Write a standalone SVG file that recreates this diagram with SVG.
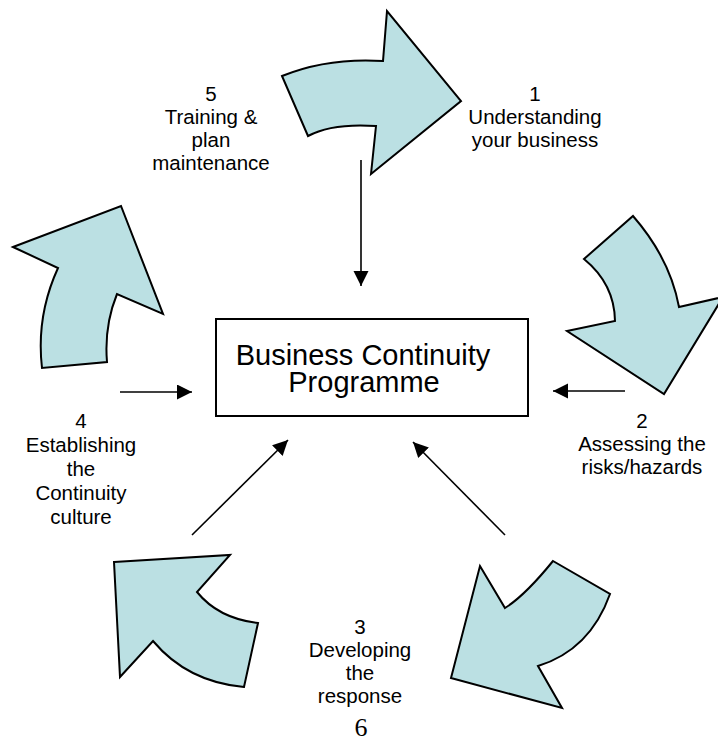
<svg xmlns="http://www.w3.org/2000/svg" width="718" height="741" viewBox="0 0 718 741">
  <style>
    .cycle { fill: #BBE0E3; stroke: #000; stroke-width: 2; stroke-linejoin: miter; }
    .conn { stroke: #000; stroke-width: 1.6; fill: none; marker-end: url(#head); }
    .lbl { font-family: "Liberation Sans", Arial, sans-serif; font-size: 20.5px; fill: #000; text-anchor: middle; }
    .core { font-family: "Liberation Sans", Arial, sans-serif; font-size: 29px; fill: #000; text-anchor: middle; }
    .page { font-family: "Liberation Serif", "Times New Roman", serif; font-size: 26px; fill: #000; text-anchor: middle; }
  </style>
  <defs>
    <marker id="head" markerUnits="userSpaceOnUse" markerWidth="16" markerHeight="16" refX="15" refY="7.5" orient="auto">
      <path d="M0,0 L15,7.5 L0,15 Z" fill="#000"/>
    </marker>
  </defs>

  <rect width="718" height="741" fill="#fff"/>

  <!-- curved cycle arrows with their step labels -->
  <g id="step1">
    <path class="cycle" d="M282,76 Q327.5,57.5 383,61 L387,11 L461,101 L371,174 L376,126 Q332,123 308,136 Z"/>
    <text class="lbl" x="535" y="101">1</text>
    <text class="lbl" x="535" y="124">Understanding</text>
    <text class="lbl" x="535" y="147">your business</text>
  </g>

  <g id="step2">
    <path class="cycle" d="M633,216 Q670,258.5 679,307 L723,297 L664,394 L567,331 L615,321 Q614.5,284 584,259 Z"/>
    <text class="lbl" x="642" y="428">2</text>
    <text class="lbl" x="642" y="451">Assessing the</text>
    <text class="lbl" x="642" y="474">risks/hazards</text>
  </g>

  <g id="step3">
    <path class="cycle" d="M553,561 L610,594 Q590,650 538,666 L562,708 L451,678 L480,566 L505,608 Q525,595.5 553,561 Z"/>
    <text class="lbl" x="360" y="634">3</text>
    <text class="lbl" x="360" y="657">Developing</text>
    <text class="lbl" x="360" y="680">the</text>
    <text class="lbl" x="360" y="703">response</text>
  </g>

  <g id="step4">
    <path class="cycle" d="M114,562 L230,555 L197,592 Q218.5,618.5 258,623 L244,687 Q187.5,682 153,641 L120,677 Z"/>
    <text class="lbl" x="81" y="428">4</text>
    <text class="lbl" x="81" y="452">Establishing</text>
    <text class="lbl" x="81" y="476">the</text>
    <text class="lbl" x="81" y="500">Continuity</text>
    <text class="lbl" x="81" y="524">culture</text>
  </g>

  <g id="step5">
    <path class="cycle" d="M13,247 L121,206 L163,314 L117,294 Q104,326 107,362 L42,368 Q36,316 58,268 Z"/>
    <text class="lbl" x="211" y="101">5</text>
    <text class="lbl" x="211" y="124">Training &amp;</text>
    <text class="lbl" x="211" y="147">plan</text>
    <text class="lbl" x="211" y="170">maintenance</text>
  </g>

  <!-- central programme box -->
  <g id="programme">
    <rect x="216" y="319" width="312" height="97" fill="#fff" stroke="#000" stroke-width="2"/>
    <text class="core" x="363" y="365">Business Continuity</text>
    <text class="core" x="364" y="392">Programme</text>
  </g>

  <!-- connectors into the programme box -->
  <g id="connectors">
    <line class="conn" x1="361" y1="160" x2="361" y2="286"/>
    <line class="conn" x1="625" y1="391" x2="553" y2="391"/>
    <line class="conn" x1="120" y1="392" x2="192" y2="392"/>
    <line class="conn" x1="192" y1="535" x2="288" y2="440"/>
    <line class="conn" x1="505" y1="535" x2="413" y2="442"/>
  </g>

  <text class="page" x="361" y="736">6</text>
</svg>
